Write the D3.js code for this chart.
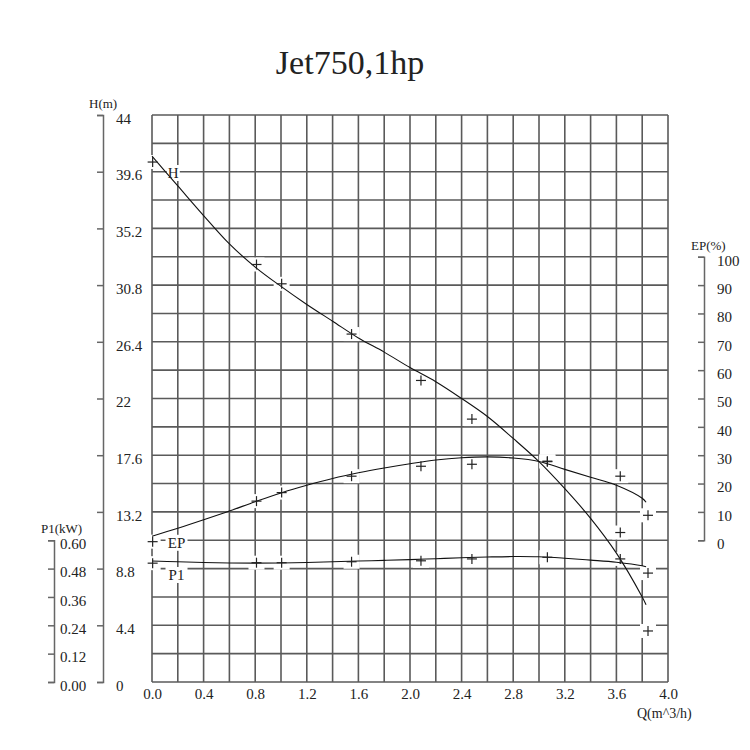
<!DOCTYPE html>
<html>
<head>
<meta charset="utf-8">
<script src="https://cdn.jsdelivr.net/npm/d3@7"></script>
<style>
  html, body { margin: 0; padding: 0; background: #fff; }
  svg text { font-family: "Liberation Serif", "DejaVu Serif", serif; fill: #222; }
</style>
</head>
<body>
<svg id="chart" width="750" height="750"></svg>
<script>
// ---- Data ----
const title = "Jet750,1hp";
// fitted curves
const qCurve  = [0, 0.2, 0.4, 0.6, 0.8, 1.0, 1.2, 1.4, 1.6, 1.8, 2.0, 2.2, 2.4, 2.6, 2.8, 3.0, 3.2, 3.4, 3.6, 3.8, 3.83];
const hCurve  = [40.8, 38.5, 36.2, 34.0, 32.2, 30.7, 29.3, 28.0, 26.7, 25.6, 24.4, 23.3, 22.0, 20.6, 18.9, 17.1, 15.0, 12.7, 10.0, 6.6, 6.0];
const epCurve = [1.4, 4.2, 7.2, 10.3, 13.6, 16.7, 19.4, 21.8, 23.8, 25.5, 27.0, 28.3, 29.1, 29.4, 29.0, 27.8, 25.0, 22.2, 19.4, 14.8, 13.4];
const p1Curve = [0.512, 0.509, 0.506, 0.504, 0.503, 0.504, 0.506, 0.509, 0.512, 0.515, 0.518, 0.522, 0.526, 0.529, 0.531, 0.530, 0.524, 0.516, 0.507, 0.492, 0.488];
// measured points (+ markers)
const qPts  = [0.005, 0.81, 1.005, 1.547, 2.085, 2.48, 3.065, 3.63, 3.845];
const hPts  = [40.35, 32.4, 30.9, 27.0, 23.4, 20.4, 17.1, 11.6, 3.96];
const epPts = [-0.5, 13.8, 16.8, 22.6, 26.1, 26.8, 27.9, 22.6, 8.8];
const p1Pts = [0.503, 0.505, 0.505, 0.509, 0.513, 0.521, 0.528, 0.521, 0.461];
// tick labels
const qTicks   = ["0.0", "0.4", "0.8", "1.2", "1.6", "2.0", "2.4", "2.8", "3.2", "3.6", "4.0"];
const hTicks   = ["0", "4.4", "8.8", "13.2", "17.6", "22", "26.4", "30.8", "35.2", "39.6", "44"];
const p1Ticks  = ["0.00", "0.12", "0.24", "0.36", "0.48", "0.60"];
const epTicks  = ["0", "10", "20", "30", "40", "50", "60", "70", "80", "90", "100"];

// ---- Scales ----
const svg = d3.select("#chart");
const x   = d3.scaleLinear([0, 4], [152, 668]);
const yH  = d3.scaleLinear([0, 44], [682, 115]);
const yEP = d3.scaleLinear([0, 100], [yH(11), yH(33)]);
const yP1 = d3.scaleLinear([0, 0.6], [yH(0), yH(11)]);

// ---- Title ----
svg.append("text").attr("x", 350).attr("y", 74).attr("text-anchor", "middle")
  .style("font-size", "34px").text(title);

// ---- Grid ----
const grid = svg.append("g").attr("stroke", "#5a5a5a").attr("stroke-width", 1.6);
d3.range(0, 21).forEach(i => {
  const q = i * 0.2;
  grid.append("line").attr("x1", x(q)).attr("x2", x(q)).attr("y1", yH(44)).attr("y2", yH(0));
  const h = i * 2.2;
  grid.append("line").attr("x1", x(0)).attr("x2", x(4)).attr("y1", yH(h)).attr("y2", yH(h));
});

// ---- Axes (bracket style) ----
function styleAxis(g) {
  g.selectAll("path.domain").attr("stroke", "#666").attr("stroke-width", 1.5);
  g.selectAll(".tick line").attr("stroke", "#666").attr("stroke-width", 1.5);
  g.selectAll("text").attr("dy", "0.55em").style("font-size", "15px")
    .style("font-family", "'Liberation Serif', serif").attr("fill", "#222");
}
const hVals = hTicks.map(Number);
svg.append("g").attr("transform", "translate(103,0)")
  .call(d3.axisRight(yH).tickValues(hVals).tickSizeInner(-6).tickSizeOuter(-6).tickPadding(13)
    .tickFormat((d, i) => hTicks[i]))
  .call(styleAxis);
const p1Vals = p1Ticks.map(Number);
svg.append("g").attr("transform", "translate(54,0)")
  .call(d3.axisRight(yP1).tickValues(p1Vals).tickSizeInner(-6).tickSizeOuter(-6).tickPadding(6)
    .tickFormat((d, i) => p1Ticks[i]))
  .call(styleAxis);
const epVals = epTicks.map(Number);
svg.append("g").attr("transform", "translate(704,0)")
  .call(d3.axisRight(yEP).tickValues(epVals).tickSizeInner(-6).tickSizeOuter(-6).tickPadding(13)
    .tickFormat((d, i) => epTicks[i]))
  .call(styleAxis);
const qVals = qTicks.map(Number);
const xg = svg.append("g").attr("transform", `translate(0,${yH(0)})`)
  .call(d3.axisBottom(x).tickValues(qVals).tickSize(0).tickPadding(6)
    .tickFormat((d, i) => qTicks[i]));
xg.select("path.domain").remove();
xg.selectAll("text").style("font-size", "15px").attr("fill", "#222");

// axis titles
svg.append("text").attr("x", 89).attr("y", 108).style("font-size", "13px").text("H(m)");
svg.append("text").attr("x", 41).attr("y", 533).style("font-size", "13px").text("P1(kW)");
svg.append("text").attr("x", 691).attr("y", 250).style("font-size", "13px").text("EP(%)");
svg.append("text").attr("x", 637).attr("y", 718).style("font-size", "14px").text("Q(m^3/h)");

// ---- Marker backgrounds ----
const markers = [];
qPts.forEach((q, i) => {
  markers.push([x(q), yH(hPts[i])]);
  markers.push([x(q), yEP(epPts[i])]);
  markers.push([x(q), yP1(p1Pts[i])]);
});
svg.append("g").selectAll("rect").data(markers).join("rect")
  .attr("x", d => d[0] - 8).attr("y", d => d[1] - 7).attr("width", 16).attr("height", 14)
  .attr("fill", "#fff");

// curve labels with white background
const labels = [
  { t: "H",  cx: x(0.165), cy: yH(39.5) },
  { t: "EP", cx: x(0.19),  cy: yEP(-0.9) },
  { t: "P1", cx: x(0.19),  cy: yP1(0.453) }
];
labels.forEach(l => {
  const w = l.t.length * 9 + 4;
  svg.append("rect").attr("x", l.cx - w / 2).attr("y", l.cy - 8).attr("width", w).attr("height", 16).attr("fill", "#fff");
});

// ---- Curves ----
function curve(vals, ys) {
  const line = d3.line().x((d, i) => x(qCurve[i])).y(d => ys(d)).curve(d3.curveCatmullRom.alpha(0.5));
  svg.append("path").attr("d", line(vals)).attr("fill", "none").attr("stroke", "#111").attr("stroke-width", 1.1);
}
curve(hCurve, yH);
curve(epCurve, yEP);
curve(p1Curve, yP1);

// ---- Markers ----
const mg = svg.append("g").attr("stroke", "#222").attr("stroke-width", 1.2);
markers.forEach(m => {
  mg.append("line").attr("x1", m[0] - 5).attr("x2", m[0] + 5).attr("y1", m[1]).attr("y2", m[1]);
  mg.append("line").attr("x1", m[0]).attr("x2", m[0]).attr("y1", m[1] - 5).attr("y2", m[1] + 5);
});

labels.forEach(l => {
  svg.append("text").attr("x", l.cx).attr("y", l.cy + 5.5).attr("text-anchor", "middle")
    .style("font-size", "15px").text(l.t);
});
</script>
</body>
</html>
